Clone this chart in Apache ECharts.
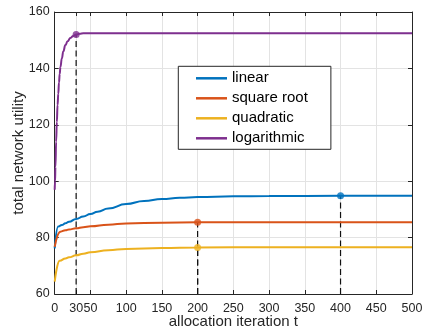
<!DOCTYPE html>
<html><head><meta charset="utf-8">
<script src="https://cdn.jsdelivr.net/npm/echarts@6/dist/echarts.min.js"></script>
<style>html,body{margin:0;padding:0;background:#fff}#c{width:424px;height:328px}</style>
</head><body><div id="c"></div>
<script>
// ---- data ----
const seriesNames = ['linear', 'square root', 'quadratic', 'logarithmic'];
const tLinear = [0, 5, 10, 15, 20, 30, 40, 50, 60, 75, 100, 125, 150, 175, 200, 250, 300, 400, 500];
const vLinear = [76.2, 83.9, 84.5, 85.05, 85.6, 86.6, 87.5, 88.35, 89.15, 90.3, 91.9, 92.95, 93.65, 94.1, 94.4, 94.65, 94.75, 94.8, 94.8];
const tSqrt = [0, 8, 15, 20, 30, 40, 50, 75, 100, 150, 200, 300, 500];
const vSqrt = [76.7, 82.1, 82.6, 82.9, 83.3, 83.7, 84.0, 84.6, 85.0, 85.3, 85.4, 85.45, 85.45];
const tQuad = [0, 7, 15, 20, 30, 40, 50, 75, 100, 150, 200, 300, 500];
const vQuad = [64.4, 71.8, 72.6, 73.0, 73.7, 74.3, 74.8, 75.5, 76.0, 76.35, 76.5, 76.6, 76.6];
const tLog = [0, 0.5, 1, 2, 3, 4, 5, 6, 7, 8, 10, 12, 15, 18, 22, 26, 30, 35, 40, 50, 100, 500];
const vLog = [97, 100, 105, 114, 121, 127, 131, 135, 138, 140.5, 143.5, 146, 148.3, 149.6, 150.8, 151.5, 152.0, 152.3, 152.45, 152.5, 152.5, 152.5];
const markT = [30, 200, 200, 400];
const markV = [152.0, 85.4, 76.5, 94.8];
const markIdx = [3, 1, 2, 0];
const xTicks = [0, 30, 50, 100, 150, 200, 250, 300, 350, 400, 450, 500];
const yMin = 60, yMax = 160, yStep = 20;
const xMin = 0, xMax = 500;

const colors = ['#0072BD', '#D95319', '#EDB120', '#7E2F8E'];
const axisColor = '#262626';
const gridColor = '#e3e3e3';
const font = 'Liberation Sans, Arial, Helvetica, sans-serif';

const tArrs = [tLinear, tSqrt, tQuad, tLog];
const vArrs = [vLinear, vSqrt, vQuad, vLog];

const chart = echarts.init(document.getElementById('c'), null, {renderer: 'canvas'});

const lineSeries = seriesNames.map((n, i) => ({
  name: n, type: 'line', xAxisIndex: 0, yAxisIndex: 0,
  data: tArrs[i].map((t, j) => [t, vArrs[i][j]]),
  symbol: 'none', smooth: 0.5, smoothMonotone: 'x',
  lineStyle: {color: colors[i], width: 2},
  itemStyle: {color: colors[i]},
  z: 3
}));

const dashSeries = markT.map((t, k) => ({
  type: 'line', xAxisIndex: 0, yAxisIndex: 0,
  data: [[t, yMin], [t, markV[k]]],
  symbol: 'none', silent: true,
  lineStyle: {color: '#111', width: 1.2, type: [6, 3.5]},
  z: 2
}));

const dotSeries = {
  type: 'scatter', xAxisIndex: 0, yAxisIndex: 0,
  data: markT.map((t, k) => ({value: [t, markV[k]], itemStyle: {color: colors[markIdx[k]]}})),
  symbolSize: 7, z: 5, silent: true
};

const option = {
  animation: false,
  backgroundColor: '#fff',
  grid: {left: 54.7, right: 12, top: 12, bottom: 34, containLabel: false, outerBoundsMode: 'none'},
  legend: {
    data: seriesNames,
    orient: 'vertical',
    left: 178.3, top: 66.3,
    padding: [4.5, 23, 3.5, 17.7],
    itemWidth: 31, itemHeight: 2.5, itemGap: 5,
    icon: 'rect',
    borderColor: axisColor, borderWidth: 1, backgroundColor: '#fff',
    textStyle: {fontFamily: font, fontSize: 15, color: '#000', lineHeight: 15},
    selectedMode: false
  },
  xAxis: [{
    type: 'value', min: xMin, max: xMax, position: 'bottom',
    name: 'allocation iteration t', nameLocation: 'middle', nameGap: 19, nameMoveOverlap: false,
    nameTextStyle: {fontFamily: font, fontSize: 15, color: axisColor, lineHeight: 17},
    axisLine: {show: true, lineStyle: {color: axisColor, width: 1}},
    axisTick: {show: true, inside: true, length: 4, customValues: xTicks, lineStyle: {color: axisColor}},
    axisLabel: {customValues: xTicks, fontFamily: font, fontSize: 12.5, color: axisColor, margin: 8},
    splitLine: {show: true, lineStyle: {color: gridColor, width: 1}}
  }, {
    type: 'value', min: xMin, max: xMax, position: 'top',
    axisLine: {show: true, onZero: false, lineStyle: {color: axisColor, width: 1}},
    axisTick: {show: true, inside: true, length: 4, customValues: xTicks, lineStyle: {color: axisColor}},
    axisLabel: {show: false}, splitLine: {show: false}
  }],
  yAxis: [{
    type: 'value', min: yMin, max: yMax, interval: yStep, position: 'left',
    name: 'total network utility', nameLocation: 'middle', nameGap: 27, nameRotate: 90, nameMoveOverlap: false,
    nameTextStyle: {fontFamily: font, fontSize: 15, color: axisColor, lineHeight: 17},
    axisLine: {show: true, lineStyle: {color: axisColor, width: 1}},
    axisTick: {show: true, inside: true, length: 4, lineStyle: {color: axisColor}},
    axisLabel: {fontFamily: font, fontSize: 12.5, color: axisColor, margin: 5},
    splitLine: {show: true, lineStyle: {color: gridColor, width: 1}}
  }, {
    type: 'value', min: yMin, max: yMax, interval: yStep, position: 'right',
    axisLine: {show: true, onZero: false, lineStyle: {color: axisColor, width: 1}},
    axisTick: {show: true, inside: true, length: 4, lineStyle: {color: axisColor}},
    axisLabel: {show: false}, splitLine: {show: false}
  }],
  series: [...dashSeries, ...lineSeries, dotSeries]
};
chart.setOption(option);
</script>
</body></html>
